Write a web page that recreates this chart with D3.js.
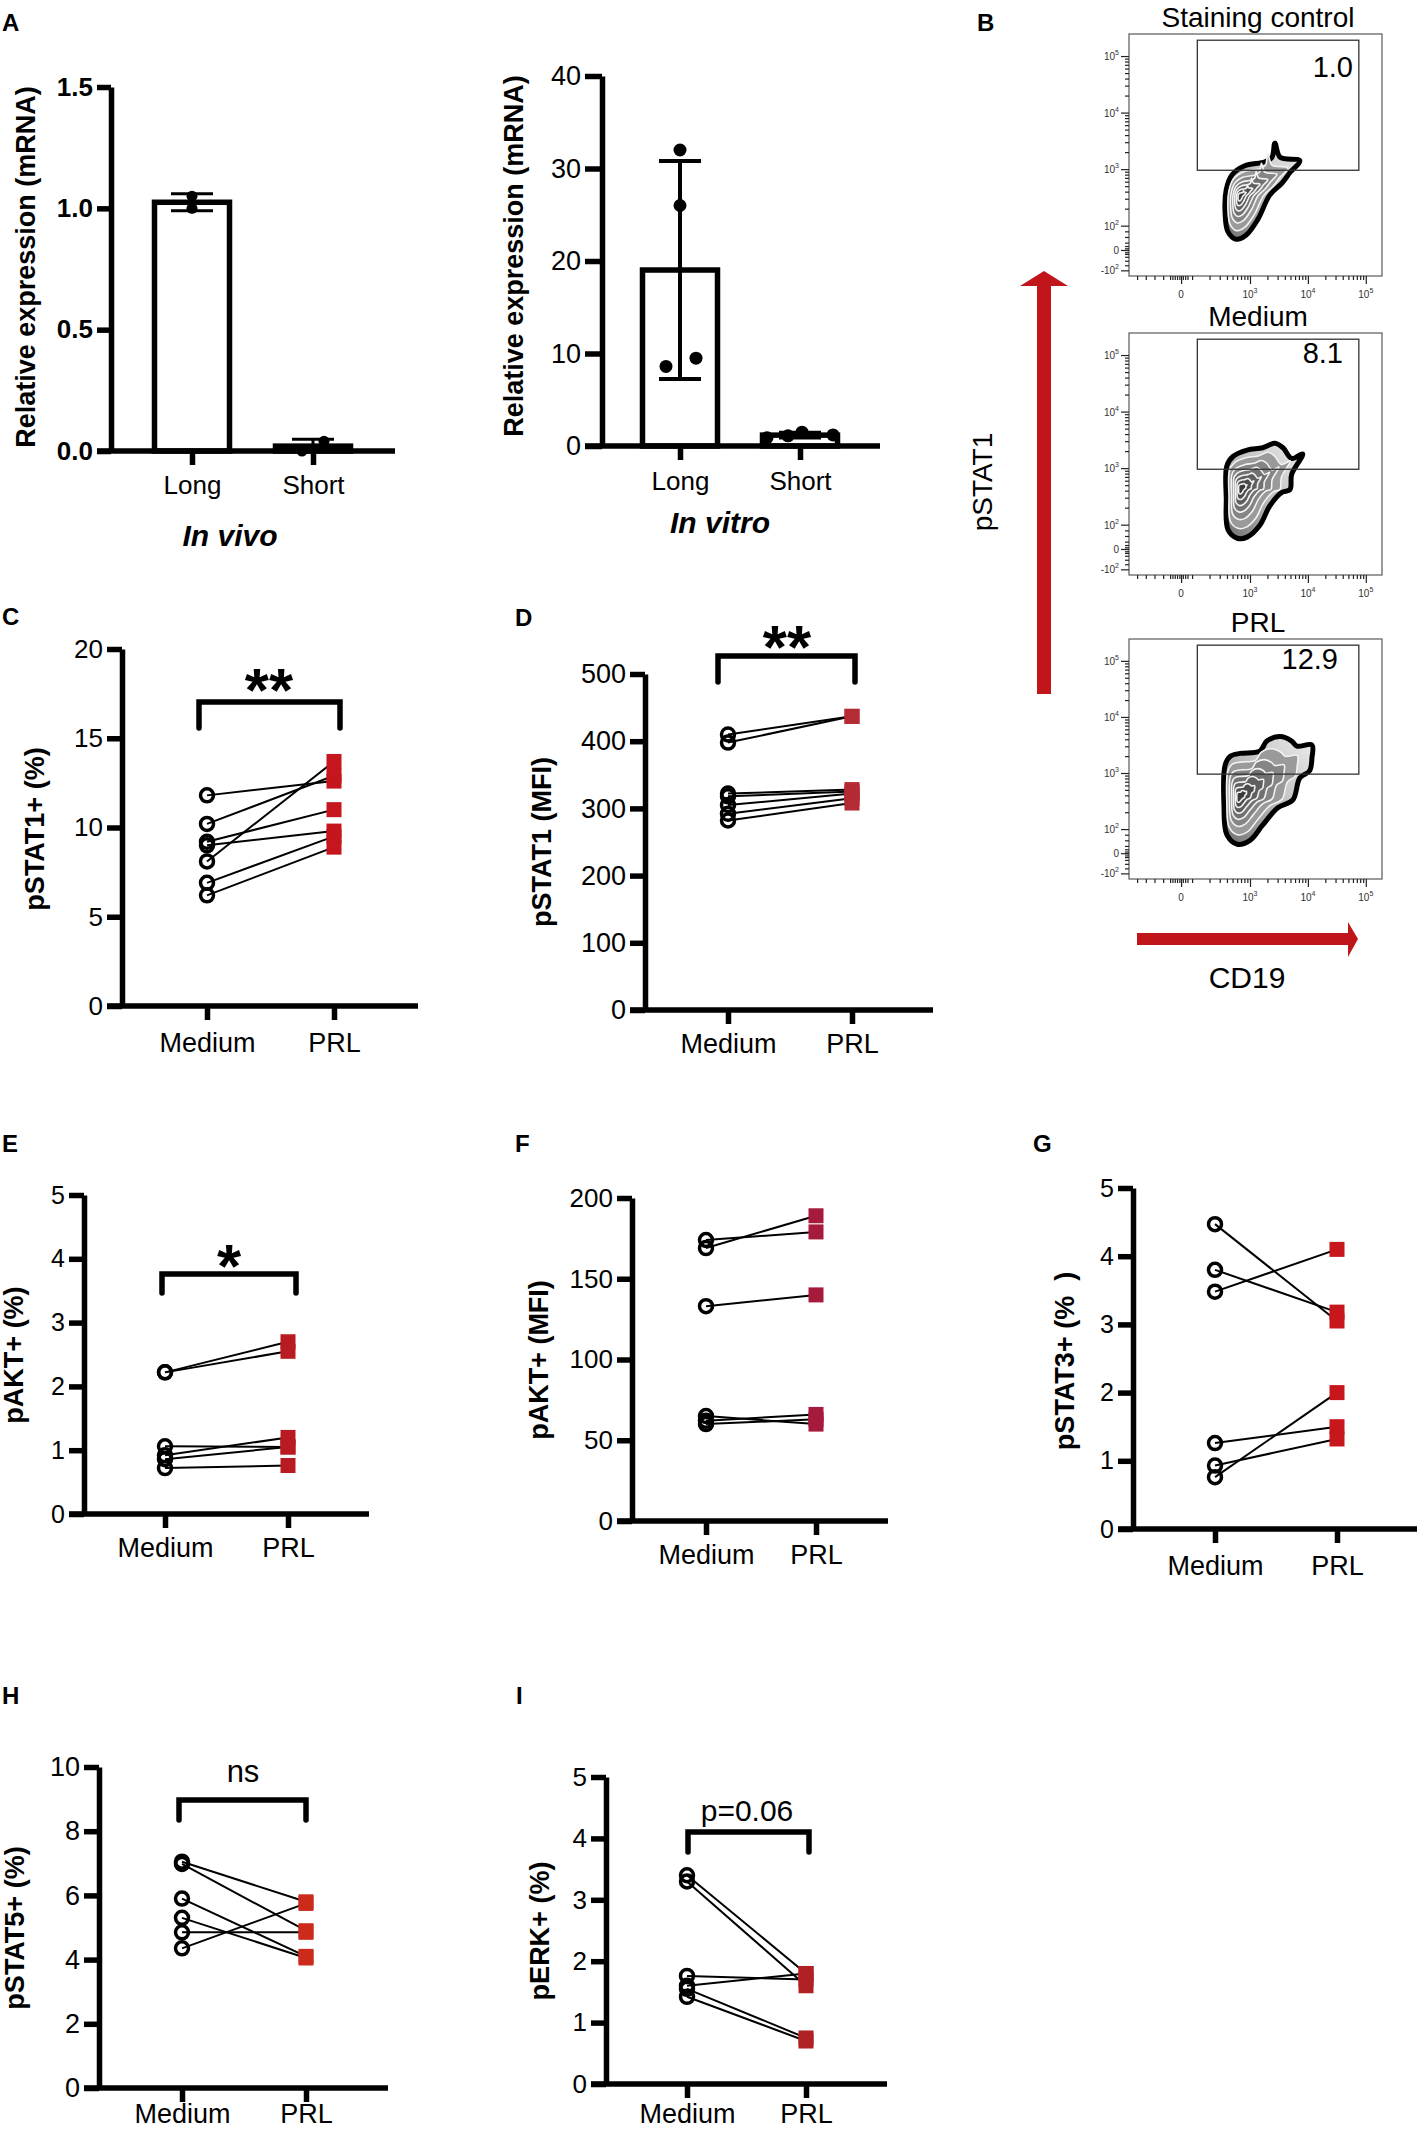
<!DOCTYPE html>
<html>
<head>
<meta charset="utf-8">
<script src="https://cdn.jsdelivr.net/npm/d3@7"></script>
<style>
  body { margin: 0; background: #fff; }
  text { font-family: "Liberation Sans", Arial, Helvetica, sans-serif; }
</style>
</head>
<body>
<div id="chart"></div>
<script>
// ---------- data ----------
var barCats = ["Long", "Short"];
var invivoLong = [1.05, 1.0];
var invivoShort = [0.04, 0.0];
var invitroLong = [32, 26, 8.6, 9.5];
var invitroShort = [0.9, 1.1, 1.5, 1.2];

var pairCats = ["Medium", "PRL"];
var pstat1PctMedium = [11.8, 10.2, 8.1, 9.2, 9.0, 6.9, 6.2];
var pstat1PctPrl    = [12.6, 12.9, 13.7, 11.0, 9.8, 9.5, 8.9];
var pstat1MfiMedium = [410, 398, 322, 318, 305, 292, 282];
var pstat1MfiPrl    = [437, 437, 328, 325, 322, 315, 308];
var paktPctMedium = [2.22, 2.22, 1.06, 0.92, 0.86, 0.72];
var paktPctPrl    = [2.7, 2.55, 1.05, 1.2, 1.05, 0.76];
var paktMfiMedium = [174, 169, 133, 65, 62, 60];
var paktMfiPrl    = [179, 189, 140, 60, 66, 63];
var pstat3Medium = [4.47, 3.8, 3.48, 1.26, 0.93, 0.76];
var pstat3Prl    = [3.05, 3.18, 4.1, 1.5, 1.32, 2.0];
var pstat5Medium = [7.05, 6.98, 5.9, 5.3, 4.85, 4.35];
var pstat5Prl    = [5.8, 4.9, 4.1, 4.05, 4.85, 5.75];
var perkMedium = [3.4, 3.3, 1.76, 1.6, 1.55, 1.42];
var perkPrl    = [1.8, 1.6, 1.7, 1.8, 0.75, 0.7];

// flow panels (axis units are decades of the display scale)
var flowTitles = ["Staining control", "Medium", "PRL"];
var flowGatePct = ["1.0", "8.1", "12.9"];
var flowXDomain = [0.91, 5.28];
var flowYDomain = [1.11, 5.39];
var flowGateX = [2.09, 4.88];
var flowGateY = [2.98, 5.28];
var flowYTicks = [1.21, 1.57, 2, 3, 4, 5];
var flowYTickLabels = [["-10", "2"], ["0", ""], ["10", "2"], ["10", "3"], ["10", "4"], ["10", "5"]];
var flowXTicks = [1.81, 3, 4, 5];
var flowXTickLabels = [["0", ""], ["10", "3"], ["10", "4"], ["10", "5"]];
var flowContours = [
  [[2.59,2.64],[2.69,2.90],[2.91,3.06],[3.26,3.13],[3.38,3.21],[3.43,3.46],[3.52,3.21],[3.86,3.15],
   [3.69,2.94],[3.55,2.75],[3.34,2.54],[3.14,2.12],[2.93,1.83],[2.76,1.76],[2.62,1.89],[2.57,2.22]],
  [[2.60,3.04],[2.71,3.21],[2.95,3.32],[3.22,3.36],[3.43,3.44],[3.57,3.36],[3.72,3.17],[3.91,3.25],
   [3.72,2.89],[3.69,2.62],[3.55,2.57],[3.34,2.33],[3.17,1.99],[2.95,1.78],[2.78,1.76],[2.62,1.91],[2.59,2.47]],
  [[2.57,3.14],[2.66,3.30],[2.83,3.35],[3.17,3.39],[3.29,3.57],[3.52,3.65],[3.72,3.57],[3.81,3.48],
   [4.07,3.50],[4.07,3.27],[4.03,3.04],[3.86,2.91],[3.74,2.52],[3.48,2.38],[3.21,2.06],[3.0,1.80],
   [2.78,1.73],[2.60,1.90],[2.55,2.43]]
];
var flowCores = [[2.82, 2.52], [2.83, 2.64], [2.80, 2.57]];

// ---------- svg ----------
var svgWidth = 1418;
var svgHeight = 2131;
var FONT = '"Liberation Sans", Arial, Helvetica, sans-serif';
var AXIS_W = 5.5;

var svg = d3.select("#chart").append("svg")
  .attr("width", svgWidth)
  .attr("height", svgHeight);

svg.append("rect").attr("width", svgWidth).attr("height", svgHeight).attr("fill", "#fff");

function styleAxis(sel, fs, bold) {
  sel.attr("font-size", fs)
    .attr("font-family", FONT)
    .attr("font-weight", bold ? "bold" : "normal");
  sel.selectAll("path, line").attr("stroke", "#000").attr("stroke-width", AXIS_W);
  sel.selectAll("text").attr("fill", "#000");
}

function letter(t, x, y) {
  svg.append("text").attr("x", x).attr("y", y)
    .attr("font-size", 24).attr("font-weight", "bold").text(t);
}

function yLabel(t, x, y, fs) {
  svg.append("text")
    .attr("transform", `translate(${x},${y}) rotate(-90)`)
    .attr("text-anchor", "middle")
    .attr("font-size", fs || 27)
    .attr("font-weight", "bold")
    .style("white-space", "pre")
    .text(t);
}

// ---------- bar panels (A) ----------
function barPanel(p, longVals, shortVals) {
  var tick = p.tick;
  var y = d3.scaleLinear().domain([0, p.max]).range([p.y0, p.yTop]);
  var x = d3.scalePoint().domain(barCats).range([p.xl, p.xs]);
  var g = svg.append("g");

  var groups = [
    {cat: "Long", vals: longVals, off: p.offL},
    {cat: "Short", vals: shortVals, off: p.offS}
  ];
  groups.forEach(function(d) {
    d.mean = d3.mean(d.vals);
    d.sd = d3.deviation(d.vals);
  });

  // bars
  g.selectAll("rect.bar").data(groups).join("rect")
    .attr("class", "bar")
    .attr("x", d => x(d.cat) - p.bw / 2)
    .attr("y", d => y(d.mean))
    .attr("width", p.bw)
    .attr("height", d => p.y0 - y(d.mean))
    .attr("fill", "#fff")
    .attr("stroke", "#000")
    .attr("stroke-width", 5.5);

  // error bars (mean +/- SD)
  groups.forEach(function(d) {
    var lo = Math.max(0, d.mean - d.sd), hi = d.mean + d.sd;
    g.append("line").attr("x1", x(d.cat)).attr("x2", x(d.cat))
      .attr("y1", y(lo)).attr("y2", y(hi))
      .attr("stroke", "#000").attr("stroke-width", p.errW);
    [lo, hi].forEach(function(v) {
      g.append("line").attr("x1", x(d.cat) - p.capW / 2).attr("x2", x(d.cat) + p.capW / 2)
        .attr("y1", y(v)).attr("y2", y(v))
        .attr("stroke", "#000").attr("stroke-width", p.errW);
    });
  });

  // axes
  var ya = g.append("g").attr("transform", `translate(${p.ax},0)`)
    .call(d3.axisLeft(y).tickValues(p.ticks).tickSize(tick).tickSizeOuter(0).tickPadding(4)
      .tickFormat(d3.format(p.fmt)));
  styleAxis(ya, p.tickFont, p.bold);

  g.append("line").attr("x1", p.ax - tick).attr("x2", p.x1)
    .attr("y1", p.y0).attr("y2", p.y0)
    .attr("stroke", "#000").attr("stroke-width", AXIS_W);
  var xa = g.append("g").attr("transform", `translate(0,${p.y0})`)
    .call(d3.axisBottom(x).tickSize(14).tickPadding(p.xlabY - p.y0 - 14 - 0.35 * 26));
  xa.select(".domain").remove();
  styleAxis(xa, 26, false);

  // points
  groups.forEach(function(d) {
    g.selectAll(null).data(d.vals).join("circle")
      .attr("cx", (v, i) => x(d.cat) + d.off[i])
      .attr("cy", v => y(v))
      .attr("r", p.r)
      .attr("fill", "#000");
  });

  yLabel(p.ylab, p.ylabX, p.ylabY, 27);
  svg.append("text").attr("x", p.tx).attr("y", p.ty)
    .attr("text-anchor", "middle").attr("font-size", 30)
    .attr("font-weight", "bold").attr("font-style", "italic")
    .text(p.title);
}

// ---------- paired panels (C-I) ----------
function pairedPanel(p, medium, prl) {
  var tick = 15;
  var y = d3.scaleLinear().domain([0, p.max]).range([p.y0, p.yTop]);
  var x = d3.scalePoint().domain(pairCats).range([p.xm, p.xp]);
  var g = svg.append("g");

  var ya = g.append("g").attr("transform", `translate(${p.ax},0)`)
    .call(d3.axisLeft(y).tickValues(p.ticks).tickSize(tick).tickSizeOuter(0).tickPadding(4)
      .tickFormat(d3.format("d")));
  styleAxis(ya, p.tickFont || 26, false);

  g.append("line").attr("x1", p.ax - tick).attr("x2", p.x1)
    .attr("y1", p.y0).attr("y2", p.y0)
    .attr("stroke", "#000").attr("stroke-width", AXIS_W);
  var xa = g.append("g").attr("transform", `translate(0,${p.y0})`)
    .call(d3.axisBottom(x).tickSize(14).tickPadding(p.xlabY - p.y0 - 14 - 0.35 * 27));
  xa.select(".domain").remove();
  styleAxis(xa, 27, false);

  var pairs = medium.map((m, i) => [m, prl[i]]);
  g.selectAll("line.pair").data(pairs).join("line")
    .attr("class", "pair")
    .attr("x1", x("Medium")).attr("x2", x("PRL"))
    .attr("y1", d => y(d[0])).attr("y2", d => y(d[1]))
    .attr("stroke", "#000").attr("stroke-width", 2);

  g.selectAll("circle.med").data(medium).join("circle")
    .attr("class", "med")
    .attr("cx", x("Medium")).attr("cy", d => y(d))
    .attr("r", 6.5).attr("fill", "none")
    .attr("stroke", "#000").attr("stroke-width", 3.5);

  var s = 15;
  g.selectAll("rect.prl").data(prl).join("rect")
    .attr("class", "prl")
    .attr("x", x("PRL") - s / 2).attr("y", d => y(d) - s / 2)
    .attr("width", s).attr("height", s)
    .attr("fill", p.color);

  if (p.bracket) {
    var b = p.bracket;
    g.append("path")
      .attr("d", `M${b.x1},${b.leg}V${b.y}H${b.x2}V${b.leg}`)
      .attr("fill", "none").attr("stroke", "#000")
      .attr("stroke-width", 5.5).attr("stroke-linecap", "round");
    g.append("text").attr("x", b.tx).attr("y", b.ty)
      .attr("text-anchor", "middle").attr("font-size", b.size)
      .attr("font-weight", b.bold ? "bold" : "normal")
      .text(b.text);
  }

  yLabel(p.ylab, p.ylabX, p.ylabY, 27);
  letter(p.letter[0], p.letter[1], p.letter[2]);
}

// ---------- flow panels (B) ----------
var flowLeft = 1129, flowRight = 1382;
var defs = svg.append("defs");
var grad = defs.append("linearGradient").attr("id", "flowGrad")
  .attr("x1", "0%").attr("x2", "100%").attr("y1", "100%").attr("y2", "0%");
grad.append("stop").attr("offset", "0%").attr("stop-color", "#6e6e6e");
grad.append("stop").attr("offset", "55%").attr("stop-color", "#c4c4c4");
grad.append("stop").attr("offset", "100%").attr("stop-color", "#ececec");

var flowMinor = d3.range(2, 5).flatMap(n => d3.range(2, 10).map(k => n + Math.log10(k)));
var flowYNearZero = [1.3, 1.38, 1.45, 1.5, 1.53, 1.57, 1.6, 1.64, 1.7, 1.8, 1.9];
var flowXNearZero = [1.05, 1.2, 1.35, 1.5, 1.62, 1.66, 1.7, 1.74, 1.78, 1.84, 1.88, 1.92, 2.0];

function flowPanel(i, top, bottom, titleY, pctDx, pctBase) {
  var y = d3.scaleLinear().domain(flowYDomain).range([bottom, top]);
  var x = d3.scaleLinear().domain(flowXDomain).range([flowLeft, flowRight]);
  var g = svg.append("g");

  // contours: nested copies of the outline shrunk toward the dense core
  var core = [x(flowCores[i][0]), y(flowCores[i][1])];
  var pts = flowContours[i].map(d => [x(d[0]), y(d[1])]);
  var line = d3.line().curve(d3.curveCatmullRomClosed.alpha(0.5));
  var levels = [1, 0.8, 0.62, 0.47, 0.34, 0.22, 0.11];
  var fills = ["url(#flowGrad)", "#9a9a9a", "#858585", "#717171", "#5f5f5f", "#4d4d4d", "#3a3a3a"];
  levels.forEach(function(k, li) {
    var lp = pts.map(q => [core[0] + (q[0] - core[0]) * k, core[1] + (q[1] - core[1]) * k]);
    g.append("path").attr("d", line(lp))
      .attr("fill", fills[li])
      .attr("stroke", li === 0 ? "#000" : "#f2f2f2")
      .attr("stroke-width", li === 0 ? 5 : 1.6);
  });

  // frame and gate
  g.append("rect").attr("x", flowLeft).attr("y", top)
    .attr("width", flowRight - flowLeft).attr("height", bottom - top)
    .attr("fill", "none").attr("stroke", "#666").attr("stroke-width", 1.3);
  g.append("rect").attr("x", x(flowGateX[0])).attr("y", y(flowGateY[1]))
    .attr("width", x(flowGateX[1]) - x(flowGateX[0]))
    .attr("height", y(flowGateY[0]) - y(flowGateY[1]))
    .attr("fill", "none").attr("stroke", "#333").attr("stroke-width", 1.3);

  // axes
  var ax1 = g.append("g").attr("transform", `translate(${flowLeft},0)`)
    .call(d3.axisLeft(y).tickValues(flowMinor.concat(flowYNearZero)).tickSize(4).tickFormat(""));
  var ax2 = g.append("g").attr("transform", `translate(${flowLeft},0)`)
    .call(d3.axisLeft(y).tickValues(flowYTicks).tickSize(8).tickFormat(""));
  var ax3 = g.append("g").attr("transform", `translate(0,${bottom})`)
    .call(d3.axisBottom(x).tickValues(flowMinor.concat(flowXNearZero)).tickSize(4).tickFormat(""));
  var ax4 = g.append("g").attr("transform", `translate(0,${bottom})`)
    .call(d3.axisBottom(x).tickValues(flowXTicks).tickSize(8).tickFormat(""));
  [ax1, ax2, ax3, ax4].forEach(function(a) {
    a.select(".domain").remove();
    a.selectAll("line").attr("stroke", "#222").attr("stroke-width", 1.2);
  });

  flowYTicks.forEach(function(v, j) {
    var t = g.append("text").attr("x", flowLeft - 10).attr("y", y(v) + 4)
      .attr("text-anchor", "end").attr("font-size", 10).attr("fill", "#333")
      .text(flowYTickLabels[j][0]);
    t.append("tspan").attr("dy", -5).attr("font-size", 7).text(flowYTickLabels[j][1]);
  });
  flowXTicks.forEach(function(v, j) {
    var t = g.append("text").attr("x", x(v)).attr("y", bottom + 22)
      .attr("text-anchor", "middle").attr("font-size", 10).attr("fill", "#333")
      .text(flowXTickLabels[j][0]);
    t.append("tspan").attr("dy", -5).attr("font-size", 7).text(flowXTickLabels[j][1]);
  });

  g.append("text").attr("x", 1353 - pctDx).attr("y", pctBase)
    .attr("text-anchor", "end").attr("font-size", 29).text(flowGatePct[i]);
  g.append("text").attr("x", 1258).attr("y", titleY)
    .attr("text-anchor", "middle").attr("font-size", 28).text(flowTitles[i]);
}

// ---------- draw ----------
letter("A", 2, 31);
barPanel({ax: 111, y0: 451, yTop: 87, max: 1.5, ticks: [0, 0.5, 1, 1.5], fmt: ".1f", bold: true,
  tickFont: 26, tick: 14, x1: 395, xl: 192, xs: 313, bw: 75, xlabY: 485,
  ylab: "Relative expression (mRNA)", ylabX: 35, ylabY: 267,
  title: "In vivo", tx: 230, ty: 546, r: 5.5, errW: 3, capW: 42,
  offL: [0, 0], offS: [11, -11]}, invivoLong, invivoShort);

barPanel({ax: 602, y0: 446, yTop: 76, max: 40, ticks: [0, 10, 20, 30, 40], fmt: "d", bold: false,
  tickFont: 27, tick: 17, x1: 880, xl: 680, xs: 800, bw: 75, xlabY: 481,
  ylab: "Relative expression (mRNA)", ylabX: 523, ylabY: 256,
  title: "In vitro", tx: 720, ty: 533, r: 6.5, errW: 4, capW: 42,
  offL: [0, 0, -14, 16], offS: [-33, -12, 2, 33]}, invitroLong, invitroShort);

letter("B", 977, 31);
flowPanel(0, 34, 276, 27, 0, 77);
flowPanel(1, 333, 575, 326, 10, 363);
flowPanel(2, 639, 879, 632, 15, 669);

// red axis arrows
var red = "#c0161b";
svg.append("rect").attr("x", 1037).attr("y", 284).attr("width", 14).attr("height", 410).attr("fill", red);
svg.append("path").attr("d", "M1020,286L1044,271L1068,286Z").attr("fill", red);
svg.append("rect").attr("x", 1137).attr("y", 933).attr("width", 213).attr("height", 12).attr("fill", red);
svg.append("path").attr("d", "M1348,922L1358,939L1348,957Z").attr("fill", red);
svg.append("text").attr("transform", "translate(992,482) rotate(-90)")
  .attr("text-anchor", "middle").attr("font-size", 28).text("pSTAT1");
svg.append("text").attr("x", 1247).attr("y", 988)
  .attr("text-anchor", "middle").attr("font-size", 30).text("CD19");

pairedPanel({ax: 122, y0: 1006, yTop: 649, max: 20, ticks: [0, 5, 10, 15, 20], x1: 418, xm: 207, xp: 334,
  xlabY: 1042, ylab: "pSTAT1+ (%)", ylabX: 44, ylabY: 829, color: "#c4161c", tickFont: 26,
  bracket: {x1: 199, x2: 340, y: 702, leg: 728, text: "**", tx: 269, ty: 711, size: 62, bold: true},
  letter: ["C", 2, 625]}, pstat1PctMedium, pstat1PctPrl);

pairedPanel({ax: 645, y0: 1010, yTop: 674, max: 500, ticks: [0, 100, 200, 300, 400, 500], x1: 933, xm: 728, xp: 852,
  xlabY: 1043, ylab: "pSTAT1 (MFI)", ylabX: 551, ylabY: 842, color: "#b42b35", tickFont: 27,
  bracket: {x1: 718, x2: 855, y: 656, leg: 682, text: "**", tx: 787, ty: 668, size: 62, bold: true},
  letter: ["D", 515, 626]}, pstat1MfiMedium, pstat1MfiPrl);

pairedPanel({ax: 84, y0: 1514, yTop: 1195, max: 5, ticks: [0, 1, 2, 3, 4, 5], x1: 369, xm: 165, xp: 288,
  xlabY: 1547, ylab: "pAKT+ (%)", ylabX: 23, ylabY: 1355, color: "#b81c22", tickFont: 25,
  bracket: {x1: 162, x2: 296, y: 1274, leg: 1293, text: "*", tx: 229, ty: 1287, size: 62, bold: true},
  letter: ["E", 2, 1152]}, paktPctMedium, paktPctPrl);

pairedPanel({ax: 632, y0: 1521, yTop: 1198, max: 200, ticks: [0, 50, 100, 150, 200], x1: 888, xm: 706, xp: 816,
  xlabY: 1554, ylab: "pAKT+ (MFI)", ylabX: 548, ylabY: 1360, color: "#a61a3c", tickFont: 26,
  letter: ["F", 515, 1152]}, paktMfiMedium, paktMfiPrl);

pairedPanel({ax: 1133, y0: 1529, yTop: 1188, max: 5, ticks: [0, 1, 2, 3, 4, 5], x1: 1417, xm: 1215, xp: 1337,
  xlabY: 1565, ylab: "pSTAT3+ (%  )", ylabX: 1074, ylabY: 1361, color: "#c8161d", tickFont: 25,
  letter: ["G", 1033, 1152]}, pstat3Medium, pstat3Prl);

pairedPanel({ax: 99, y0: 2088, yTop: 1767, max: 10, ticks: [0, 2, 4, 6, 8, 10], x1: 388, xm: 182, xp: 306,
  xlabY: 2113, ylab: "pSTAT5+ (%)", ylabX: 24, ylabY: 1928, color: "#cc2a1a", tickFont: 27,
  bracket: {x1: 179, x2: 306, y: 1800, leg: 1820, text: "ns", tx: 243, ty: 1782, size: 31, bold: false},
  letter: ["H", 2, 1704]}, pstat5Medium, pstat5Prl);

pairedPanel({ax: 606, y0: 2084, yTop: 1777, max: 5, ticks: [0, 1, 2, 3, 4, 5], x1: 887, xm: 687, xp: 806,
  xlabY: 2113, ylab: "pERK+ (%)", ylabX: 549, ylabY: 1931, color: "#b02124", tickFont: 26,
  bracket: {x1: 688, x2: 809, y: 1832, leg: 1852, text: "p=0.06", tx: 747, ty: 1821, size: 30, bold: false},
  letter: ["I", 516, 1704]}, perkMedium, perkPrl);
</script>
</body>
</html>
